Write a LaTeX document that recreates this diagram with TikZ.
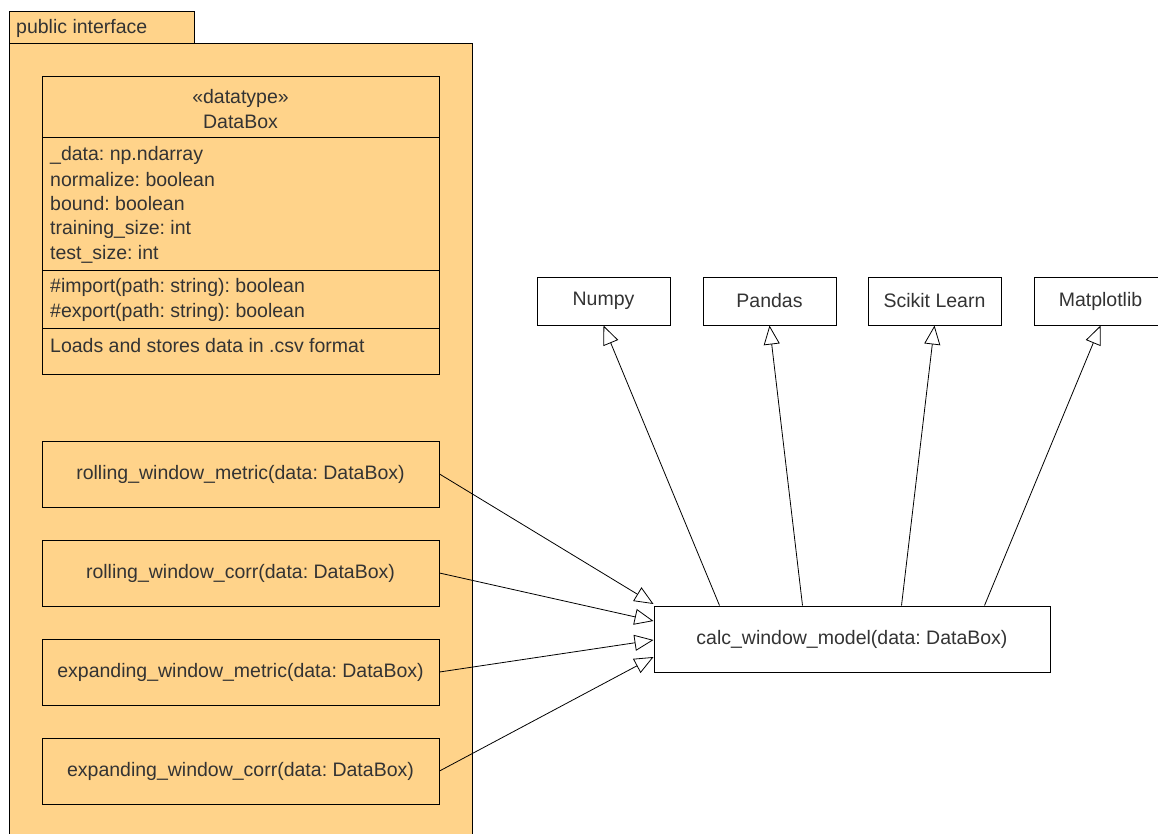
\documentclass[tikz,border=0pt]{standalone}
\usepackage{fontspec}
\setmainfont{Liberation Sans}
\usetikzlibrary{arrows.meta}
\definecolor{pkgfill}{HTML}{FFD38A}
\definecolor{txt}{HTML}{333333}
\frenchspacing

\begin{document}
\begin{tikzpicture}[x=1pt, y=-1pt, font=\fontsize{19.5}{23}\selectfont,
	box/.style={draw, line width=1pt, minimum width=397pt, minimum height=66pt, inner sep=0pt, text=txt},
	libbox/.style={draw, line width=1pt, fill=white, minimum width=133pt, minimum height=48pt, inner sep=0pt, text=txt},
	row/.style={anchor=west, text=txt, inner sep=0pt},
	realize/.style={-{Triangle[open, length=19pt, width=16pt]}, line width=0.8pt}]
			\useasboundingbox (0,0) rectangle (1158,834);
			% package
			\draw[fill=pkgfill, line width=1pt] (9,12) rectangle (194,44);
			\draw[fill=pkgfill, line width=1pt] (9,44) rectangle (472,845);
			\node[row] (pkg) at (16,28) {public interface};
			% datatype
			\draw[line width=1pt] (42,77) rectangle (439,374);
			\foreach \y in {138,270,328}
				\draw[line width=1pt] (42,\y) -- (439,\y);
			\node[text=txt] (stereo) at (240.5,98) {«datatype»};
			\node[text=txt] (databox) at (240.5,122) {DataBox};
			\foreach \txt/\y [count=\i] in {\_data: np.ndarray/155, normalize: boolean/180, bound: boolean/204, training\_size: int/229, test\_size: int/254, \#import(path: string): boolean/287, \#export(path: string): boolean/312, Loads and stores data in .csv format/346}
				\node[row] (attr\i) at (50,\y) {\txt};
			% functions
			\foreach \name/\y [count=\i] in {rolling\_window\_metric/474, rolling\_window\_corr/573, expanding\_window\_metric/672, expanding\_window\_corr/771}
				\node[box] (f\i) at (240.5,\y) {\name(data: DataBox)};
			\node[box, fill=white, minimum width=396pt] (calc) at (852,639) {calc\_window\_model(data: DataBox)};
			% libraries
			\node[libbox] (numpy) at (603.5,301) {Numpy};
			\node[libbox] (pandas) at (769.5,301) {Pandas};
			\node[libbox] (scikit) at (934.5,301) {Scikit Learn};
			\node[libbox] (matplot) at (1100.5,301) {Matplotlib};
			\foreach \lib/\dx in {numpy/66, pandas/149, scikit/248, matplot/331}
				\draw[realize] ([xshift=\dx pt]calc.north west) -- (\lib.south);
			\foreach \i/\dy in {1/35, 2/18, 3/-1, 4/-18}
				\draw[realize] (f\i.east) -- ([yshift=\dy pt]calc.west);
\end{tikzpicture}
\end{document}
